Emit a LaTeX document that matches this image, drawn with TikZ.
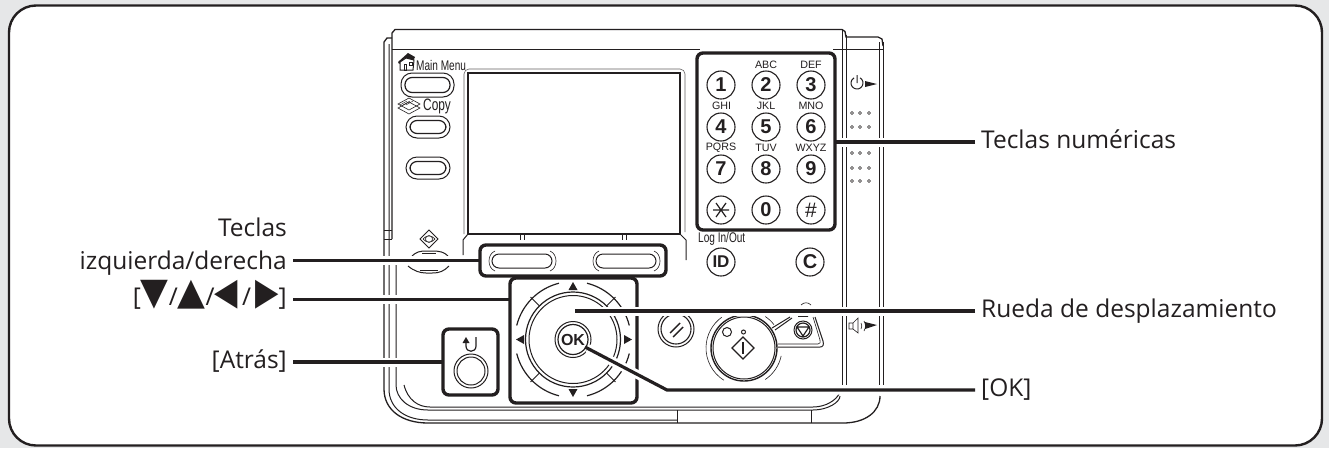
\documentclass[tikz,border=0pt]{standalone}
\usepackage{fontspec}
\setmainfont{Open Sans}
\newfontfamily\panelfont{Liberation Sans}
\newfontfamily\narrowfont[FakeStretch=0.72]{Liberation Sans}
\newfontfamily\symfont{DejaVu Sans}
\newcommand{\trikey}[2]{\raisebox{1.5pt}{\scalebox{#1}[1.3]{\symfont\fontsize{29}{29}\selectfont #2}}}
\definecolor{ink}{HTML}{231F20}
\definecolor{backdrop}{HTML}{E6E7E8}
\tikzset{
  panel/.style={draw=ink, line width=1pt},
  panelthin/.style={draw=ink, line width=0.6pt},
  leader/.style={draw=ink, line width=3.2pt, preaction={draw=white, line width=9pt, shorten >=3pt}},
  callout/.style={font=\fontsize{24.5}{28}\selectfont, text=ink, text height=17pt, text depth=5pt, inner xsep=6pt, inner ysep=0pt},
  thickbox/.style={draw=ink, line width=3.4pt, rounded corners=6pt, inner sep=0pt, outer sep=0pt},
  key/.style={circle, panel, line width=1.1pt, minimum size=28pt, inner sep=0pt, text=ink, font=\panelfont\bfseries\fontsize{20}{20}\selectfont},
  keyletters/.style={inner sep=0pt, text=ink, font=\panelfont\fontsize{10.7}{11}\selectfont},
  tiny/.style={inner sep=0pt, text=ink, font=\narrowfont\fontsize{14}{14}\selectfont},
  ring/.style={circle, panel, inner sep=0pt},
  dot/.style={panelthin, line width=0.5pt}
}
\begin{document}
\begin{tikzpicture}[x=1pt,y=-1pt]
\useasboundingbox (0,0) rectangle (1329,448);
\fill[backdrop] (0,0) rectangle (1329,448);
\draw[ink, fill=white, line width=2.4pt, rounded corners=27pt] (9,5.5) rectangle (1322,445.5);
% body of the panel
\draw[panel, line width=1.3pt] (392,239) -- (392,33) -- ++(3,-3.5) -- (842,29.5) -- ++(3,2) -- (846,37) -- (878,37) -- ++(4,2) -- (883,46);
\draw[panel, line width=1.3pt] (392,38) -- (387,38) -- (384,42) -- (384,389) .. controls (384,410) and (402,423) .. (428,423) -- (843,423) .. controls (865,423) and (880,412) .. (880,396);
\draw[panel] (389,44) -- (389,389) .. controls (389,408) and (405,420) .. (428,420) -- (677,420);
\draw[panel] (396,265) -- (396,385) .. controls (396,398) and (408,410) .. (428,410) -- (813,410) .. controls (828,410) and (840,402) .. (840,396);
\draw[panel] (404,385) .. controls (408,400) and (418,407) .. (430,407) -- (813,407) .. controls (826,407) and (836,400) .. (839,394);
\draw[panel] (677,410) -- (677,423) (811,410) -- (811,423);
\draw[panel] (392,49) -- (700,49) (833,49) -- (883,49);
\draw[panel] (842,29) -- (842,385) (846,35) -- (846,385) (879,42) -- (879,385) (883,42) -- (883,385);
\draw[panel] (384,230) -- (392,230) (384,239) -- (392,239);
% screen
\draw[panel, line width=1.5pt] (468,73) rectangle (680,234);
\draw[panelthin, rounded corners=5pt, draw=ink!70] (464,234) -- (464,69) -- (685,69) -- (685,232);
\draw[panel] (463,255) -- (463,240) -- (468,234) (686,260) -- (686,240) -- (680,234);
\foreach \x in {520,524,622,626} {\draw[panel] (\x,234) -- (\x,240);}
% buttons on the left
\foreach \t/\b/\l/\r in {73/97/401/454, 116/138/406/450, 157/179/406/450} {
  \draw[panel, rounded corners=11pt] (\l,\t) rectangle (\r,\b);
  \draw[panel, line width=1.2pt, rounded corners=7pt] (\l+4,\t+4.5) rectangle (\r-4,\b-4.5);
}
\draw[panel] (412,256) .. controls (416,252) and (420,251) .. (426,251) -- (432,251) .. controls (440,251) and (444,252) .. (448,256);
\draw[panel] (422,253) -- (436,253);
\draw[panel] (408,266) .. controls (414,271) and (420,273) .. (426,273) -- (432,273) .. controls (440,273) and (444,271) .. (449,266);
\draw[panel] (420,270) -- (438,270);
\draw[panel] (429,230) -- (438,239) -- (429,248) -- (420,239) -- cycle;
\draw[panelthin] (429,239) circle[radius=3.5] (423,239) .. controls (426,235) and (432,235) .. (435,239) .. controls (432,243) and (426,243) .. (423,239);
\node[tiny, anchor=west] (mainmenu) at (416,65) {Main Menu};
\node[tiny, anchor=west, font=\narrowfont\fontsize{16.5}{16}\selectfont] (copy) at (423,106) {Copy};
% house and paper icons
\fill[ink] (398,62) -- (408,53) -- (415,57) -- (413,61) -- (405,58) -- (399,64) -- cycle;
\draw[panel, fill=white] (400,62) -- (400,70) -- (413,70) -- (414,60) -- (406,58) -- cycle;
\draw[panelthin] (404,64) rectangle (406,70) (409,62) rectangle (412,65);
\foreach \y in {102,106} {\draw[panelthin] (398,\y+2) -- (409,\y-4) -- (420,\y+2) -- (409,\y+8) -- cycle;}
\foreach \d in {-3,0,3} {\draw[panelthin, line width=0.4pt] (403+\d,105) -- (410+\d,101);}
% softkeys
\foreach \c in {0,104} {
  \draw[panel, rounded corners=7pt] (492+\c,254) rectangle (552+\c,268);
  \draw[panelthin] (495+\c,251) .. controls (487+\c,254) and (487+\c,268) .. (495+\c,271);
  \draw[panelthin] (550+\c,251) .. controls (558+\c,254) and (558+\c,268) .. (550+\c,271);
}
% keypad keys and their letters
\foreach \n/\x/\y in {1/721/85, 2/766/85, 3/811/85, 4/721/127, 5/766/127, 6/811/127, 7/721/169, 8/766/169, 9/811/169, 0/766/210} {
  \node[key] (key\n) at (\x,\y) {\n};
}
\node[key] (keystar) at (721,210) {};
\draw[ink, line width=1.2pt] (713,210) -- (729,210) (716,203) -- (726,217) (726,203) -- (716,217);
\node[key, font=\panelfont\fontsize{21}{21}\selectfont] (keyhash) at (811,210) {\#};
\foreach \s/\x/\y in {ABC/766/65, DEF/811/65, GHI/721.5/106, JKL/766/106, MNO/811/106, PQRS/721/148, TUV/766/148, WXYZ/811/148} {
  \node[keyletters] (letters\s) at (\x,\y) {\s};
}
\node[key, font=\panelfont\bfseries\fontsize{17}{17}\selectfont] (keyid) at (721,262) {ID};
\node[key] (keyc) at (810,262) {C};
\node[tiny, anchor=west] (login) at (698,239) {Log In/Out};
% power and volume icons, dots
\draw[panel] (857,83) ++(-60:6) arc[start angle=-60, end angle=240, radius=6] (857,75) -- (857,83);
\fill[ink] (865,81) -- (877,84) -- (865,87) -- cycle;
\foreach \y in {113,127,153,168,181} {
  \foreach \x in {852,860,869} {\draw[dot] (\x,\y) circle[radius=1.5];}
}
\draw[panelthin] (849,323) rectangle (853,329) (853,323) -- (858,318) -- (858,333) -- (853,329);
\draw[panelthin] (861,323) .. controls (862,325) and (862,327) .. (861,329) (864,321) .. controls (866,325) and (866,327) .. (864,331);
\fill[ink] (865,322) -- (877,325) -- (865,329) -- cycle;
% start, stop and reset buttons
\node[ring, minimum size=36pt] (resetkey) at (676,329) {};
\node[ring, line width=1.1pt, minimum size=30pt] (resetinner) at (676,329) {};
\draw[ink, line width=1.4pt] (670,333) -- (680,323) (673,337) -- (683,327);
\draw[panelthin] (744,348) ++(122:38) arc[start angle=122, end angle=234, radius=38];
\draw[panelthin] (744,348) ++(56:38) arc[start angle=56, end angle=12, radius=38];
\draw[panelthin] (744,348) ++(-56:38) arc[start angle=-56, end angle=-38, radius=38];
\draw[panel] (772,328) -- (790,317) (775,330) -- (792,318);
\draw[panel] (815,317) -- (823,341) .. controls (824,345) and (823,347) .. (820,347) -- (778,347);
\draw[panelthin] (778,344) -- (818,344) .. controls (820,344) and (821,342) .. (820,340) -- (813,317);
\node[ring, line width=1.4pt, minimum size=66pt, fill=white] (startkey) at (744,348) {};
\node[ring, minimum size=62pt] (startinner) at (744,348) {};
\draw[panel] (727,332) circle[radius=4.5] (743.5,332) circle[radius=2];
\draw[panel, line width=1.2pt] (743,337) -- (754,348) -- (743,359) -- (732,348) -- cycle;
\draw[ink, line width=1.4pt] (743,342) -- (743,354);
\node[ring, minimum size=18pt] (stopkey) at (803,330) {};
\draw[panel, line width=1.2pt] (803,330) circle[radius=7] (797,327) -- (809,327) -- (803,336) -- cycle;
\draw[panelthin] (798,316.5) -- (808,316.5) (801,305) .. controls (804,302) and (808,302) .. (811,305);
% the wheel
\foreach \a in {45,135,225,315} {
  \draw[panel] (573,339.5) ++(\a:47) -- ++(\a:13);
}
\foreach \a in {0,90,180,270} {
  \draw[panel, line width=1.2pt] (573,339.5) ++(\a+14:58) arc[start angle=\a+14, end angle=\a+76, radius=58];
}
\draw[panel, line width=1.2pt] (573,339.5) circle[radius=47.5];
\draw[panel] (573,339.5) circle[radius=44];
\fill[ink] (573,282) -- (577.5,290) -- (568.5,290) -- cycle;
\fill[ink] (573,397) -- (577.5,389) -- (568.5,389) -- cycle;
\fill[ink] (516,339.5) -- (524,335) -- (524,344) -- cycle;
\fill[ink] (632,339.5) -- (624,335) -- (624,344) -- cycle;
\node[ring, minimum size=36pt] (okkey) at (573,339.5) {};
\node[ring, line width=1.2pt, minimum size=30pt, font=\panelfont\bfseries\fontsize{16}{16}\selectfont, text=ink] (okinner) at (573,339.5) {OK};
% back key
\draw[panel, line width=1.2pt] (476,337) -- (476,346) .. controls (476,353) and (466,353) .. (466,346) -- (466,341);
\fill[ink] (466,337) -- (469.5,343) -- (462.5,343) -- cycle;
\node[ring, minimum size=34pt] (backkey) at (471,371) {};
\node[ring, minimum size=28pt] (backinner) at (471,371) {};
% the thick boxes
\node[thickbox, minimum width=138pt, minimum height=177pt] (keypad) at (766,141.5) {};
\node[thickbox, minimum width=186pt, minimum height=31pt] (softkeys) at (573,260.5) {};
\node[thickbox, minimum width=127pt, minimum height=125pt] (dirkeys) at (573.5,340.5) {};
\node[thickbox, minimum width=55pt, minimum height=66pt] (backbox) at (470.5,362) {};
% labels
\node[callout, anchor=west] (numlabel) at (975,142) {Teclas numéricas};
\node[callout, anchor=east] (toplabel) at (293,230) {Teclas};
\node[callout, anchor=east] (sidelabel) at (293,263) {izquierda/derecha};
\node[callout, anchor=east] (arrowlabel) at (293,299.5) {[\trikey{1.25}{▼}/\trikey{1.25}{▲}/\trikey{1.05}{◀}\,/\,\trikey{1.05}{▶}]};
\node[callout, anchor=east] (backlabel) at (293,362) {[Atrás]};
\node[callout, anchor=west] (wheellabel) at (975,311) {Rueda de desplazamiento};
\node[callout, anchor=west] (oklabel) at (975,390) {[OK]};
% leaders
\coordinate (okbend) at (667,390);
\coordinate (okend) at (585,347);
\coordinate (wheelend) at (575,311);
\draw[leader] (numlabel.west) -- (numlabel.west -| keypad.east);
\draw[leader] (sidelabel.east |- softkeys.west) -- (softkeys.west);
\draw[leader] (arrowlabel.east) -- (arrowlabel.east -| dirkeys.west);
\draw[leader] (backlabel.east) -- (backlabel.east -| backbox.west);
\draw[leader] (wheellabel.west) -- (wheelend);
\draw[leader] (oklabel.west) -- (okbend) -- (okend);
\end{tikzpicture}
\end{document}
